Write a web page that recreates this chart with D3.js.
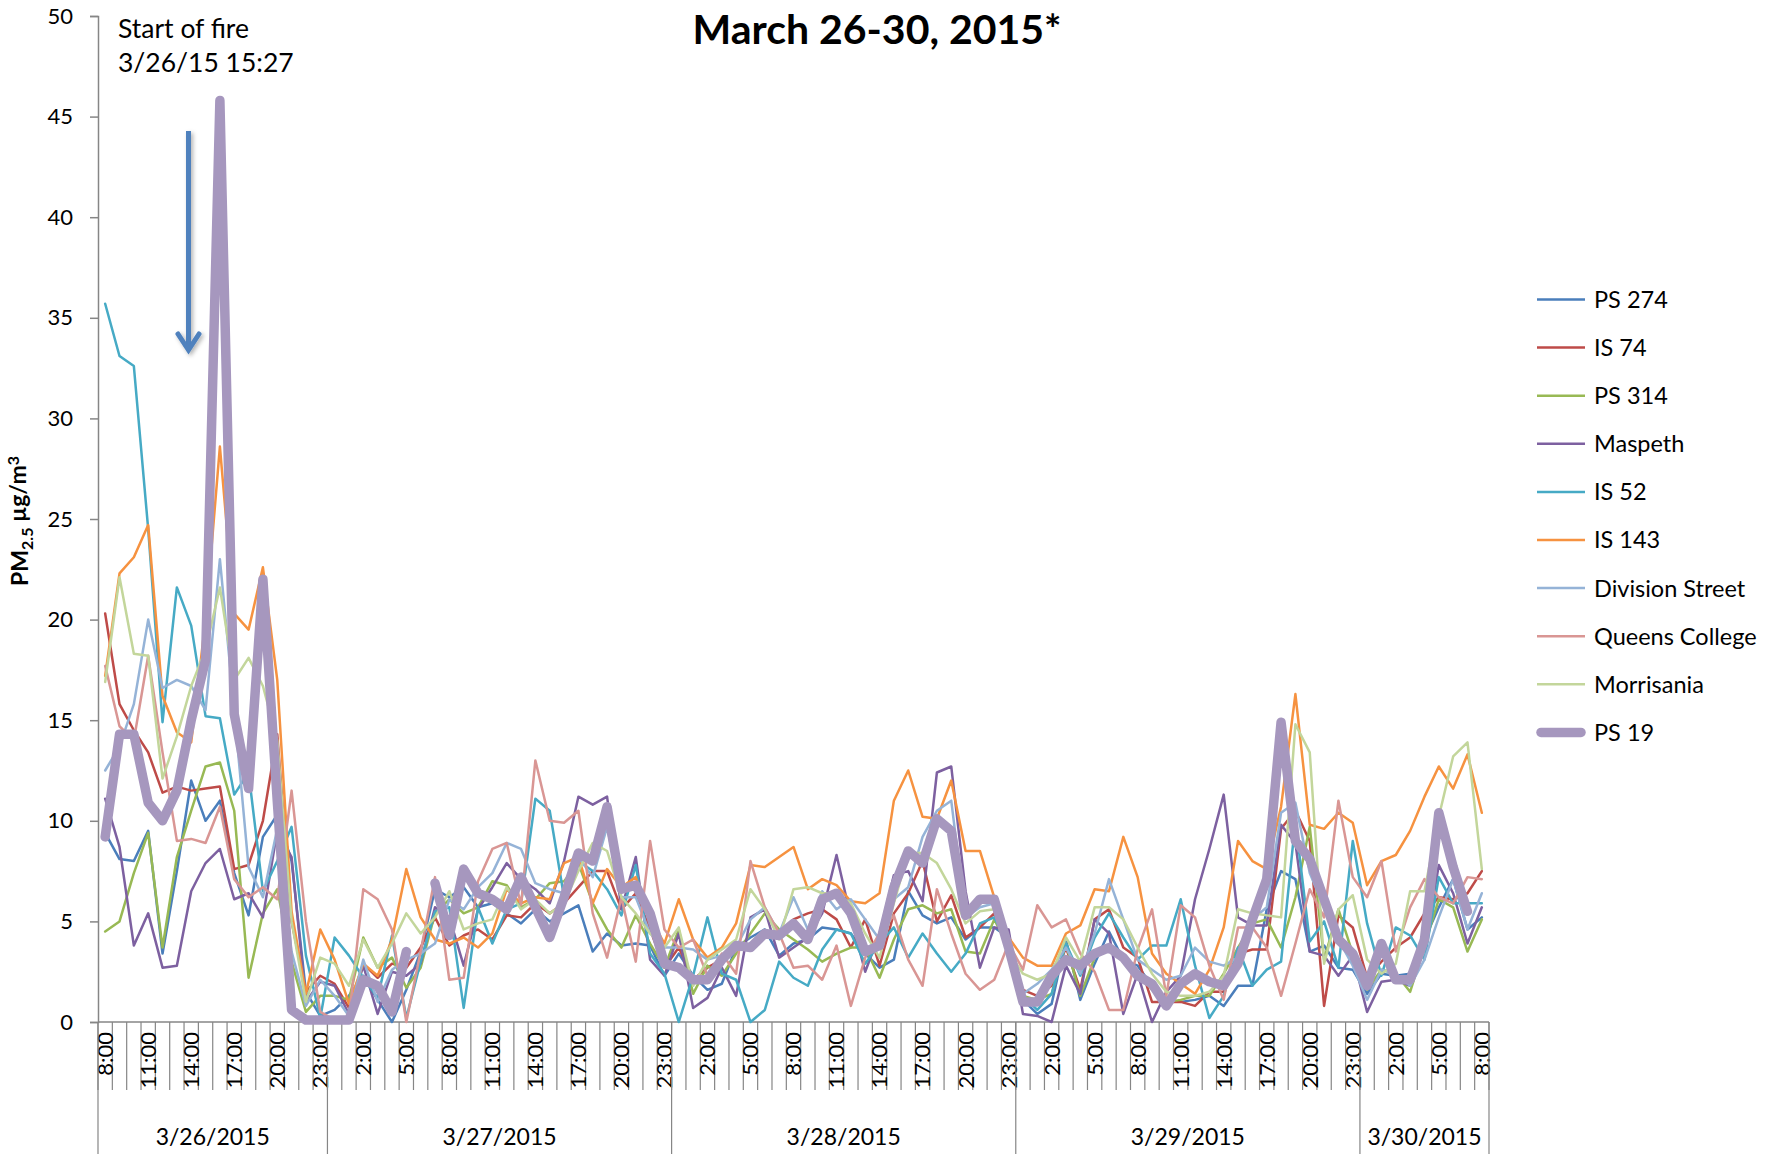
<!DOCTYPE html>
<meta charset="utf-8">
<style>
  body { margin: 0; background: #fff; }
  svg { display: block; }
  text { font-family: Lato, "Open Sans", sans-serif; fill: #000; }
</style>
<body>
<script src="https://d3js.org/d3.v7.min.js"></script>
<script>
// days on the category axis, with first and last hour shown for each
var days = ["3/26/2015", "3/27/2015", "3/28/2015", "3/29/2015", "3/30/2015"];
var dayFirstHour = [8, 0, 0, 0, 0];
var dayLastHour = [23, 23, 23, 23, 8];

var yTicks = [0, 5, 10, 15, 20, 25, 30, 35, 40, 45, 50];

var seriesNames = ["PS 274", "IS 74", "PS 314", "Maspeth", "IS 52", "IS 143",
                   "Division Street", "Queens College", "Morrisania", "PS 19"];
var seriesColors = ["#4A7EBB", "#BE4B48", "#98B954", "#7D60A0", "#46AAC5", "#F69240",
                    "#95B3D7", "#D99694", "#C3D69B", "#A697BE"];

// hourly PM2.5 (ug/m3), 3/26 8:00 .. 3/30 8:00
var ps274 = [9.4, 8.1, 8.0, 9.5, 3.4, 7.5, 12.0, 10.0, 11.0, 7.4, 5.3, 9.2, 10.3, 8.0, 1.5, 0.3,
  0.6, 1.3, 2.3, 1.1, 0.0, 1.6, 3.5, 6.6, 6.2, 6.7, 5.7, 5.9, 5.4, 4.9, 5.6, 5.0, 5.4, 5.8, 3.5, 4.4, 3.8, 3.9, 3.8,
  2.3, 3.4, 2.3, 1.6, 1.9, 3.7, 4.2, 4.6, 3.3, 3.9, 4.1, 4.7, 4.6, 4.4, 3.4, 2.7, 3.1, 6.5, 5.3, 4.9, 5.2, 4.1, 4.7,
  4.7, 4.2, 1.1, 0.4, 0.9, 4.1, 1.1, 2.9, 4.5, 3.1, 2.8, 1.8, 1.1, 1.0, 1.1, 1.3, 0.8, 1.8, 1.8, 5.6, 7.5, 7.1,
  3.5, 3.8, 2.7, 2.6, 1.4, 2.4, 2.3, 2.4, 4.1, 5.7, 7.1, 4.6, 5.2];
var is74 = [20.3, 15.8, 14.5, 13.4, 11.4, 11.7, 11.5, 11.6, 11.7, 7.6, 7.8, 10.0, 14.3, 5.0, 1.5, 2.3,
  1.9, 0.7, 2.9, 2.2, 2.9, 2.7, 3.7, 5.2, 3.8, 4.3, 4.6, 4.1, 5.3, 5.2, 5.9, 5.4, 5.9, 6.7, 7.5, 7.5, 5.6, 6.4, 4.6,
  2.7, 3.7, 2.1, 2.7, 3.1, 3.7, 3.8, 4.5, 4.4, 5.1, 5.4, 5.6, 5.1, 3.7, 5.1, 2.8, 5.4, 6.4, 8.0, 5.0, 6.3, 4.2, 4.7,
  5.4, 3.6, 1.6, 1.3, 1.8, 3.7, 1.6, 5.1, 5.6, 3.7, 3.2, 1.0, 1.0, 1.0, 0.8, 1.5, 1.5, 3.4, 3.6, 3.6, 9.6, 10.5,
  9.0, 0.8, 5.3, 4.7, 2.2, 3.0, 3.7, 4.2, 5.4, 6.2, 6.1, 6.4, 7.5];
var ps314 = [4.5, 5.0, 7.4, 9.4, 3.7, 8.2, 10.5, 12.7, 12.9, 10.5, 2.2, 5.4, 6.6, 3.0, 0.5, 1.3,
  1.3, 1.1, 4.2, 2.7, 3.2, 1.7, 2.7, 5.4, 6.1, 5.4, 5.7, 7.0, 6.8, 5.7, 6.1, 6.9, 7.0, 7.9, 5.9, 4.6, 3.7, 5.3, 3.9,
  2.7, 4.6, 1.4, 2.8, 2.3, 3.4, 4.4, 5.4, 4.6, 4.1, 3.6, 3.0, 3.4, 3.7, 3.7, 2.2, 4.1, 5.6, 5.8, 5.4, 5.6, 3.5, 3.4,
  5.1, 3.7, 1.3, 1.1, 1.4, 3.9, 1.3, 3.2, 3.7, 3.2, 2.5, 1.6, 1.0, 1.1, 1.3, 1.3, 2.4, 3.7, 4.9, 5.1, 3.7, 6.2,
  9.7, 3.1, 5.6, 3.4, 1.6, 2.6, 2.4, 1.5, 3.8, 6.1, 5.7, 3.5, 5.1];
var maspeth = [11.1, 8.7, 3.8, 5.4, 2.7, 2.8, 6.5, 7.9, 8.6, 6.1, 6.4, 5.2, 9.5, 8.2, 1.0, 2.0,
  1.8, 0.4, 2.8, 0.4, 2.5, 2.3, 2.9, 5.7, 5.2, 2.8, 5.6, 6.7, 7.9, 7.1, 6.6, 5.9, 8.0, 11.2, 10.8, 11.2, 5.6, 8.2, 3.1,
  2.3, 4.4, 0.7, 1.2, 2.7, 1.3, 5.2, 5.6, 3.2, 3.7, 4.2, 5.4, 8.3, 5.2, 2.5, 4.4, 7.3, 7.5, 6.0, 12.4, 12.7, 6.5, 2.7,
  4.7, 4.6, 0.4, 0.3, 0.0, 2.8, 1.4, 5.1, 4.4, 0.4, 2.4, 0.0, 1.5, 2.3, 6.1, 8.6, 11.3, 5.2, 4.8, 4.8, 9.8, 8.9,
  3.5, 3.3, 2.3, 3.3, 0.5, 2.0, 2.1, 1.8, 3.6, 7.8, 6.4, 3.9, 5.7];
var is52 = [35.7, 33.1, 32.6, 24.5, 14.9, 21.6, 19.7, 15.2, 15.1, 11.3, 12.4, 6.5, 8.0, 9.7, 3.3, 0.2,
  4.2, 3.3, 2.2, 1.2, 4.3, 0.2, 3.0, 5.5, 5.7, 0.7, 5.7, 3.9, 5.6, 5.9, 11.1, 10.5, 6.2, 8.0, 7.5, 6.6, 5.3, 7.8, 3.4,
  2.4, 0.0, 2.3, 5.2, 2.4, 2.1, 0.0, 0.6, 3.0, 2.2, 1.8, 3.6, 4.6, 4.4, 2.9, 3.9, 4.7, 3.2, 4.4, 3.4, 2.5, 3.4, 4.9,
  5.2, 3.9, 1.3, 0.6, 1.4, 3.9, 2.3, 4.2, 5.4, 4.2, 3.1, 3.8, 3.8, 6.1, 2.8, 0.2, 1.3, 3.7, 1.8, 2.6, 3.0, 10.0,
  4.0, 5.0, 2.7, 9.0, 4.9, 2.3, 4.7, 4.3, 3.1, 7.2, 5.9, 5.9, 5.9];
var is143 = [17.2, 22.3, 23.1, 24.7, 16.2, 14.4, 13.9, 20.0, 28.6, 20.3, 19.5, 22.6, 17.0, 5.5, 1.4, 4.6,
  3.1, 0.9, 2.9, 2.3, 4.1, 7.6, 5.2, 4.1, 3.9, 4.2, 3.7, 4.4, 6.6, 5.9, 6.2, 6.1, 7.9, 8.2, 5.9, 7.6, 6.7, 7.2, 5.2,
  3.9, 6.1, 4.1, 3.2, 3.7, 4.9, 7.8, 7.7, 8.2, 8.7, 6.6, 7.1, 6.8, 6.0, 5.9, 6.4, 11.0, 12.5, 10.2, 10.1, 12.0, 8.5, 8.5,
  6.2, 4.2, 3.2, 2.8, 2.8, 4.4, 4.8, 6.6, 6.5, 9.2, 7.2, 3.4, 2.4, 1.9, 1.4, 2.6, 4.7, 9.0, 8.0, 7.6, 10.7, 16.3,
  9.8, 9.6, 10.4, 9.9, 6.8, 8.0, 8.3, 9.5, 11.2, 12.7, 11.6, 13.3, 10.4];
var divisionSt = [12.5, 13.7, 15.8, 20.0, 16.6, 17.0, 16.7, 15.5, 23.0, 15.5, 7.7, 6.2, 9.6, 3.5, 0.8, 2.1,
  1.3, 0.3, 3.1, 1.0, 2.6, 3.1, 3.4, 3.9, 6.1, 5.6, 6.7, 7.4, 8.9, 8.6, 6.9, 6.6, 6.4, 8.2, 7.2, 9.7, 6.2, 6.2, 4.4,
  3.7, 3.7, 3.6, 3.1, 3.3, 3.7, 5.1, 5.7, 4.4, 6.2, 4.6, 6.5, 5.6, 6.1, 5.1, 4.1, 6.1, 6.7, 9.2, 10.5, 11.0, 5.2, 5.7,
  5.9, 3.8, 1.4, 1.9, 2.6, 3.7, 2.4, 4.4, 7.1, 5.1, 3.1, 2.6, 2.1, 2.3, 3.7, 3.0, 2.8, 3.2, 5.1, 5.7, 10.4, 10.9,
  7.4, 5.7, 4.1, 2.8, 1.1, 2.6, 2.4, 1.8, 3.1, 5.2, 7.1, 4.6, 6.4];
var queensCollege = [17.7, 14.7, 14.0, 18.2, 13.4, 9.0, 9.1, 8.9, 10.7, 7.1, 6.2, 6.7, 6.1, 11.5, 5.0, 0.5,
  0.1, 0.2, 6.6, 6.1, 4.6, 0.0, 3.5, 7.2, 2.1, 2.2, 7.0, 8.6, 8.9, 5.8, 13.0, 10.0, 9.9, 10.5, 5.4, 3.2, 6.2, 3.0, 9.0,
  4.6, 3.7, 4.1, 2.3, 3.4, 2.4, 8.0, 5.7, 4.4, 2.7, 2.8, 2.1, 3.8, 0.8, 3.2, 4.4, 5.3, 3.1, 1.8, 6.6, 4.4, 2.4, 1.6,
  2.1, 3.9, 2.6, 5.8, 4.7, 5.1, 3.4, 2.5, 0.6, 0.6, 3.6, 5.6, 1.3, 5.8, 5.2, 2.8, 1.1, 4.7, 4.7, 3.7, 1.3, 3.9,
  6.6, 5.2, 11.0, 7.2, 6.2, 8.0, 3.5, 5.7, 7.1, 6.2, 5.9, 7.2, 7.1];
var morrisania = [16.9, 22.1, 18.3, 18.2, 12.1, 14.2, 16.7, 18.5, 21.6, 17.0, 18.1, 16.7, 14.0, 5.0, 1.0, 3.2,
  2.9, 1.8, 4.1, 2.7, 3.9, 5.4, 4.4, 5.2, 6.5, 4.6, 4.9, 5.1, 6.7, 5.6, 6.1, 5.4, 5.9, 7.5, 8.9, 8.5, 6.2, 5.4, 4.4,
  3.7, 4.7, 1.8, 3.1, 3.6, 4.1, 6.6, 5.6, 4.1, 6.6, 6.7, 6.4, 6.4, 5.9, 4.4, 3.2, 5.9, 8.4, 8.4, 7.9, 6.6, 4.9, 5.5,
  5.6, 3.5, 2.4, 2.1, 2.4, 4.2, 3.0, 5.7, 5.7, 5.1, 3.7, 2.4, 1.5, 1.3, 1.3, 1.5, 2.3, 5.6, 5.4, 5.3, 5.2, 14.8,
  13.4, 2.9, 5.6, 6.3, 3.1, 2.4, 2.9, 6.5, 6.5, 10.2, 13.2, 13.9, 7.6];
var ps19 = [9.2, 14.3, 14.3, 10.9, 10.0, 11.5, 15.0, 18.0, 45.8, 15.3, 11.6, 22.0, 11.0, 0.6, 0.1, 0.1,
  0.1, 0.1, 2.1, 1.8, 0.5, 3.5, null, 6.9, 4.3, 7.6, 6.4, 6.1, 5.6, 7.2, 5.7, 4.2, 6.2, 8.4, 8.0, 10.7, 6.6, 6.8, 5.4,
  2.9, 2.7, 2.1, 2.1, 3.1, 3.8, 3.7, 4.4, 4.3, 4.9, 4.1, 6.1, 6.4, 5.4, 3.5, 3.8, 6.7, 8.5, 7.9, 10.1, 9.5, 5.3, 6.1,
  6.1, 3.7, 1.0, 1.0, 2.3, 3.1, 2.8, 3.4, 3.7, 3.2, 2.3, 1.9, 0.8, 1.9, 2.4, 2.0, 1.8, 2.9, 5.1, 7.1, 14.9, 9.0,
  8.1, 6.1, 4.1, 3.4, 1.8, 3.9, 2.1, 2.1, 4.1, 10.4, 7.7, 5.5, null];

var seriesValues = [ps274, is74, ps314, maspeth, is52, is143, divisionSt, queensCollege, morrisania, ps19];

var width = 1779, height = 1154;
var plotLeft = 98, plotRight = 1489, plotTop = 16, plotBottom = 1022;
var axisColor = "#868686";

// build the hour categories from the day table
var categories = [];
days.forEach(function(day, d){
  for (var h = dayFirstHour[d]; h <= dayLastHour[d]; h++){
    categories.push({day: d, label: h + ":00"});
  }
});

var svg = d3.select("body").append("svg")
  .attr("width", width)
  .attr("height", height);

var defs = svg.append("defs");
defs.append("filter").attr("id", "shadow")
  .attr("x", "-50%").attr("y", "-10%").attr("width", "200%").attr("height", "130%")
  .append("feDropShadow")
    .attr("dx", 2).attr("dy", 2).attr("stdDeviation", 2)
    .attr("flood-color", "#000").attr("flood-opacity", 0.3);

var x = d3.scaleBand()
  .domain(d3.range(categories.length))
  .range([plotLeft, plotRight]);

var y = d3.scaleLinear()
  .domain([0, 50])
  .range([plotBottom, plotTop]);

function cx(i){ return x(i) + x.bandwidth() / 2; }

// y axis
var yAxis = svg.append("g")
  .attr("transform", "translate(" + plotLeft + ",0)")
  .call(d3.axisLeft(y).tickValues(yTicks).tickSize(8).tickPadding(17));
yAxis.select(".domain").attr("stroke", axisColor).attr("stroke-width", 1.5);
yAxis.selectAll(".tick line").attr("stroke", axisColor).attr("stroke-width", 1.5);
yAxis.selectAll(".tick text")
  .style("font-family", "Lato, sans-serif")
  .style("font-size", "22px")
  .attr("fill", "#000");

// y axis title
var yTitle = svg.append("text")
  .attr("transform", "translate(28,521) rotate(-90)")
  .attr("text-anchor", "middle")
  .style("font-size", "23px")
  .style("font-weight", "bold");
yTitle.append("tspan").text("PM");
yTitle.append("tspan").attr("dy", "0.3em").style("font-size", "16px").text("2.5");
yTitle.append("tspan").attr("dy", "-0.3em").text(" \u00b5g/m");
yTitle.append("tspan").attr("dy", "-0.45em").style("font-size", "16px").text("3");

// x axis line and category ticks
var xAxis = svg.append("g");
xAxis.append("line")
  .attr("x1", plotLeft).attr("x2", plotRight)
  .attr("y1", plotBottom).attr("y2", plotBottom)
  .attr("stroke", axisColor).attr("stroke-width", 1.5);

var boundaries = d3.range(categories.length + 1);
function bx(i){ return i < categories.length ? x(i) : plotRight; }

xAxis.selectAll(".cat-tick")
  .data(boundaries)
  .enter().append("line")
    .attr("class", "cat-tick")
    .attr("x1", function(d){ return bx(d); })
    .attr("x2", function(d){ return bx(d); })
    .attr("y1", plotBottom)
    .attr("y2", plotBottom + 68)
    .attr("stroke", axisColor)
    .attr("stroke-width", 1.2);

xAxis.selectAll(".hour-label")
  .data(categories.filter(function(c, i){ return i % 3 === 0; }))
  .enter().append("text")
    .attr("class", "hour-label")
    .attr("transform", function(d){
      var i = categories.indexOf(d);
      return "translate(" + cx(i) + "," + (plotBottom + 10) + ") rotate(-90)";
    })
    .attr("text-anchor", "end")
    .attr("dy", "0.36em")
    .style("font-size", "22px")
    .text(function(d){ return d.label; });

// day group separators and labels
var dayStart = days.map(function(day, d){
  return categories.findIndex(function(c){ return c.day === d; });
});
var dayEdges = dayStart.concat([categories.length]);

xAxis.selectAll(".day-sep")
  .data(dayEdges)
  .enter().append("line")
    .attr("class", "day-sep")
    .attr("x1", function(d){ return bx(d); })
    .attr("x2", function(d){ return bx(d); })
    .attr("y1", plotBottom)
    .attr("y2", height)
    .attr("stroke", axisColor)
    .attr("stroke-width", 1.2);

xAxis.selectAll(".day-label")
  .data(days)
  .enter().append("text")
    .attr("class", "day-label")
    .attr("x", function(d, k){ return (bx(dayEdges[k]) + bx(dayEdges[k + 1])) / 2; })
    .attr("y", 1145)
    .attr("text-anchor", "middle")
    .style("font-size", "23px")
    .text(function(d){ return d; });

// series lines
var line = d3.line()
  .defined(function(d){ return d != null; })
  .x(function(d, i){ return cx(i); })
  .y(function(d){ return y(d); });

svg.append("g").selectAll("path")
  .data(seriesValues)
  .enter().append("path")
    .attr("d", line)
    .attr("fill", "none")
    .attr("stroke", function(d, k){ return seriesColors[k]; })
    .attr("stroke-width", function(d, k){ return k === 9 ? 9.5 : 2.5; })
    .attr("stroke-linejoin", "round")
    .attr("stroke-linecap", "round");

// title
svg.append("text")
  .attr("x", 877).attr("y", 44)
  .attr("text-anchor", "middle")
  .style("font-size", "41px")
  .style("font-weight", "bold")
  .text("March 26-30, 2015*");

// annotation
var note = svg.append("text").style("font-size", "26.5px");
note.append("tspan").attr("x", 118).attr("y", 38).text("Start of fire");
note.append("tspan").attr("x", 118).attr("y", 72).text("3/26/15 15:27");

var arrow = svg.append("g")
  .attr("filter", "url(#shadow)")
  .attr("stroke", "#4F81BD")
  .attr("fill", "none")
  .attr("stroke-width", 5);
arrow.append("line")
  .attr("x1", 188.5).attr("x2", 188.5)
  .attr("y1", 131).attr("y2", 350);
arrow.append("polyline")
  .attr("points", "178,334 188.5,350 199,334")
  .attr("stroke-linejoin", "miter")
  .attr("stroke-linecap", "round");

// legend
var legend = svg.append("g")
  .selectAll("g")
  .data(seriesNames)
  .enter().append("g")
    .attr("transform", function(d, k){ return "translate(1537," + (299.5 + k * 48.1) + ")"; });

legend.append("line")
  .attr("x1", function(d, k){ return k === 9 ? 4 : 0; })
  .attr("x2", function(d, k){ return k === 9 ? 44 : 48; })
  .attr("stroke", function(d, k){ return seriesColors[k]; })
  .attr("stroke-width", function(d, k){ return k === 9 ? 9.5 : 2.5; })
  .attr("stroke-linecap", function(d, k){ return k === 9 ? "round" : "butt"; });

legend.append("text")
  .attr("x", 57)
  .attr("dy", "0.36em")
  .style("font-size", "23.5px")
  .text(function(d){ return d; });
</script>
</body>
